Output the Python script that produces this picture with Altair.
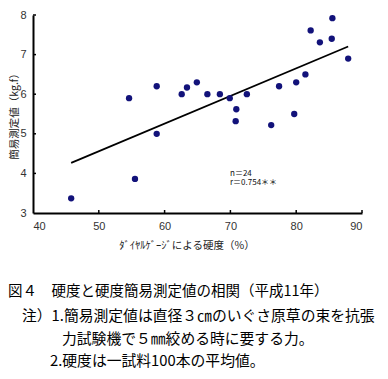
import altair as alt
import pandas as pd

# Data
hardness = [45.8, 54.6, 55.5, 58.8, 58.8, 62.6, 63.4, 64.9, 66.5, 68.4, 69.9, 70.9,
            70.8, 72.5, 76.2, 77.4, 79.7, 80.0, 81.4, 82.2, 83.6, 85.4, 85.5, 87.9]
simple_value = [3.37, 5.9, 3.86, 6.2, 5.0, 6.0, 6.17, 6.3, 6.0, 6.0, 5.9, 5.62,
                5.32, 6.0, 5.22, 6.2, 5.5, 6.3, 6.5, 7.61, 7.31, 7.4, 7.92, 6.9]
x_ticks = [40, 50, 60, 70, 80, 90]
y_ticks = [3, 4, 5, 6, 7, 8]
x_title = "ﾀﾞｲﾔﾙｹﾞｰｼﾞによる硬度（%）"
y_title = "簡易測定値（kg.f）"
stats_lines = ["n＝24", "r＝0.754＊＊"]
caption_lines = [
    "図４　硬度と硬度簡易測定値の相関（平成11年）",
    "注）1.簡易測定値は直径３㎝のいぐさ原草の束を抗張",
    "力試験機で５㎜絞める時に要する力。",
    "2.硬度は一試料100本の平均値。",
]

W, H = 329, 198
CJK = "Noto Sans CJK JP"

df = pd.DataFrame({"x": hardness, "y": simple_value})
xs = alt.Scale(domain=[40, 90], nice=False, zero=False)
ys = alt.Scale(domain=[3, 8], nice=False, zero=False)

x_axis = alt.Axis(values=x_ticks, grid=False, ticks=False, domainColor="black", domainWidth=2,
                  labelFont="Liberation Sans", labelFontSize=11, labelColor="#333", labelPadding=7,
                  labelOverlap=False, title=None)
y_axis = alt.Axis(values=y_ticks, grid=False, ticks=False, domainColor="black", domainWidth=2,
                  labelFont="Liberation Sans", labelFontSize=11, labelColor="#333", labelPadding=7,
                  labelOverlap=False, title=None)

points = alt.Chart(df).mark_point(filled=True, shape="circle", size=40, color="#12127a", opacity=1).encode(
    x=alt.X("x:Q", scale=xs, axis=x_axis),
    y=alt.Y("y:Q", scale=ys, axis=y_axis),
)

reg = alt.Chart(df).transform_regression("x", "y").mark_line(color="black", strokeWidth=1.7).encode(
    x=alt.X("x:Q", scale=xs, axis=x_axis),
    y=alt.Y("y:Q", scale=ys, axis=y_axis),
)

xt = alt.Chart(pd.DataFrame({"v": x_ticks[1:]})).mark_rule(color="black", strokeWidth=1.5).encode(
    x=alt.X("v:Q", scale=xs, axis=x_axis), y=alt.value(H), y2=alt.value(H - 3))
yt = alt.Chart(pd.DataFrame({"v": y_ticks[1:]})).mark_rule(color="black", strokeWidth=1.5).encode(
    y=alt.Y("v:Q", scale=ys, axis=y_axis), x=alt.value(0), x2=alt.value(3))

def text_at(t, x, y, size, font=CJK, color="black", align="left", angle=0):
    return alt.Chart(pd.DataFrame({"t": [t]})).mark_text(
        align=align, baseline="middle", font=font, fontSize=size, color=color, angle=angle
    ).encode(text="t:N", x=alt.value(x), y=alt.value(y))

titles = [
    text_at(x_title, 154, 231, 10.5, color="#222", align="center"),
    text_at(y_title, -18.5, 99, 10.5, color="#222", align="center", angle=270),
]

stats = [text_at(stats_lines[0], 197, 158.5, 8, color="#111"),
         text_at(stats_lines[1], 197, 168, 8, color="#111")]

caps = [
    text_at(caption_lines[0], -25, 277, 14.5),
    text_at(caption_lines[1], -11, 302, 14.8),
    text_at(caption_lines[2], 29, 325, 14.8),
    text_at(caption_lines[3], 17, 347, 14.8),
]

chart = alt.layer(reg, points, xt, yt, *titles, *stats, *caps).properties(
    width=W, height=H,
    autosize=alt.AutoSizeParams(type="none"),
    padding={"left": 25, "top": 7, "right": 18, "bottom": 157},
).configure_view(stroke=None)

chart.save("out.html", embed_options={"renderer": "svg", "actions": False})
